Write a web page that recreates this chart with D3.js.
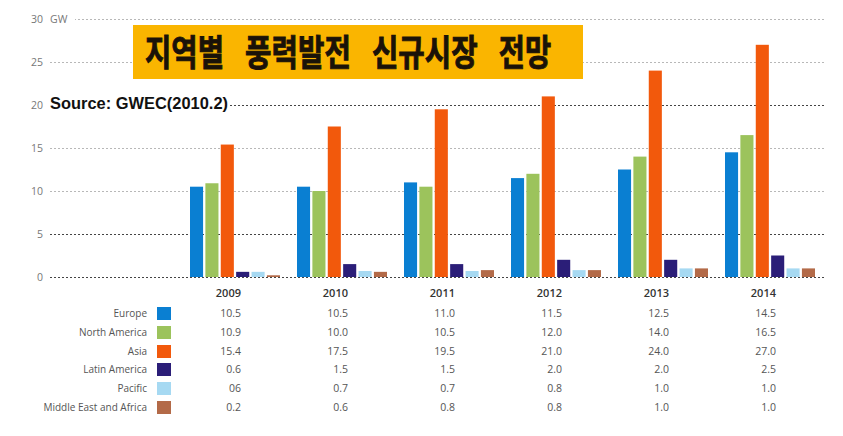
<!DOCTYPE html>
<html><head><meta charset="utf-8">
<script src="https://cdn.jsdelivr.net/npm/d3@7"></script>
<style>body{margin:0;background:#fff;}svg{display:block;}</style>
</head><body>
<svg id="c" width="843" height="436"></svg>
<script>
const years = ["2009","2010","2011","2012","2013","2014"];
const seriesNames = ["Europe","North America","Asia","Latin America","Pacific","Middle East and Africa"];
const europe = [10.5,10.5,11.0,11.5,12.5,14.5];
const northAmerica = [10.9,10.0,10.5,12.0,14.0,16.5];
const asia = [15.4,17.5,19.5,21.0,24.0,27.0];
const latinAmerica = [0.6,1.5,1.5,2.0,2.0,2.5];
const pacific = [0.6,0.7,0.7,0.8,1.0,1.0];
const middleEastAfrica = [0.2,0.6,0.8,0.8,1.0,1.0];
const yTicks = [0,5,10,15,20,25,30];
const colors = ["#0a7fd2","#9cc35c","#f2590c","#2b1e78","#a6d9f2","#b36a48"];
const titleText = "지역별 풍력발전 신규시장 전망";
const sourceText = "Source: GWEC(2010.2)";
const unitText = "GW";
const tableOverrides = {"Pacific|2009":"06"};

const values = [europe,northAmerica,asia,latinAmerica,pacific,middleEastAfrica];
const svg = d3.select("#c");

const y = d3.scaleLinear().domain([0,30]).range([277,19]);
const x0 = d3.scaleBand().domain(years).range([181.5,823.5]);
const x1 = d3.scaleBand().domain(seriesNames).range([8.5,98.5]).paddingInner(0.15);

// gridlines
const darkTicks = [0,5,20];
svg.append("g").selectAll("line").data(yTicks).join("line")
  .attr("x1",50).attr("x2",826)
  .attr("y1",d=>y(d)+0.5).attr("y2",d=>y(d)+0.5)
  .attr("stroke",d=>darkTicks.includes(d)?"#444":"#b8b8b8")
  .attr("stroke-width",1.2)
  .attr("stroke-dasharray","2,2");

// y labels
svg.append("g").selectAll("text").data(yTicks).join("text")
  .attr("x",43).attr("y",d=>y(d)+4)
  .attr("text-anchor","end")
  .attr("font-family","Open Sans, sans-serif").attr("font-size",10.5)
  .attr("fill","#777").text(d=>d);
svg.append("rect").attr("x",47).attr("y",12).attr("width",28).attr("height",14).attr("fill","#fff");
svg.append("text").attr("x",50).attr("y",y(30)+4)
  .attr("font-family","Open Sans, sans-serif").attr("font-size",10.5)
  .attr("fill","#777").text(unitText);

// bars
const groups = svg.append("g").selectAll("g").data(years).join("g")
  .attr("transform",d=>`translate(${x0(d)},0)`);
groups.selectAll("rect").data((yr,i)=>seriesNames.map((s,j)=>({s,j,v:values[j][i]}))).join("rect")
  .attr("x",d=>x1(d.s)).attr("width",x1.bandwidth())
  .attr("y",d=>y(d.v)).attr("height",d=>y(0)-y(d.v))
  .attr("fill",d=>colors[d.j]);

// title box
svg.append("rect").attr("x",133).attr("y",25).attr("width",450).attr("height",54).attr("fill","#fab500");
const words = titleText.split(" ");
const glyphW = 26.7, wordGap = 20;
let tx = 145;
const title = svg.append("text").attr("y",66)
  .attr("font-family","Noto Sans CJK KR, sans-serif").attr("font-weight",700)
  .attr("font-size",36).attr("fill","#1a1208")
  .attr("stroke","#1a1208").attr("stroke-width",0.9);
words.forEach((w,i)=>{
  const len = w.length*glyphW;
  title.append("tspan").attr("x",tx).attr("textLength",len - 1)
    .attr("lengthAdjust","spacingAndGlyphs").text(w);
  tx += len + wordGap;
});

// source
svg.append("rect").attr("x",49).attr("y",94).attr("width",180).attr("height",20).attr("fill","#fff");
svg.append("text").attr("x",50).attr("y",109)
  .attr("font-family","Liberation Sans, Arial, sans-serif").attr("font-weight",700)
  .attr("font-size",16.5).attr("fill","#111")
  .attr("textLength",178).attr("lengthAdjust","spacingAndGlyphs")
  .text(sourceText);

// table
const rowY = [313,332,351,369,388,407];
const fmt = d3.format(".1f");
const yearRight = yr => x0(yr) + x0.bandwidth()/2 + 6;
svg.append("g").selectAll("text").data(years).join("text")
  .attr("x",d=>yearRight(d)).attr("y",297).attr("text-anchor","end")
  .attr("font-family","Open Sans, sans-serif").attr("font-size",11).attr("font-weight",600)
  .attr("fill","#333").text(d=>d);
const rows = svg.append("g").selectAll("g").data(seriesNames).join("g");
rows.append("text").attr("x",147).attr("y",(d,i)=>rowY[i]+4).attr("text-anchor","end")
  .attr("font-family","Open Sans, sans-serif").attr("font-size",10).attr("fill","#555")
  .text(d=>d);
rows.append("rect").attr("x",157).attr("y",(d,i)=>rowY[i]-6).attr("width",14).attr("height",13)
  .attr("fill",(d,i)=>colors[i]);
rows.each(function(s,i){
  d3.select(this).selectAll("text.v").data(years).join("text").attr("class","v")
    .attr("x",yr=>yearRight(yr)).attr("y",rowY[i]+4).attr("text-anchor","end")
    .attr("font-family","Open Sans, sans-serif").attr("font-size",10.5).attr("fill","#555")
    .text((yr,k)=>tableOverrides[s+"|"+yr] || fmt(values[i][k]));
});
</script>
</body></html>
